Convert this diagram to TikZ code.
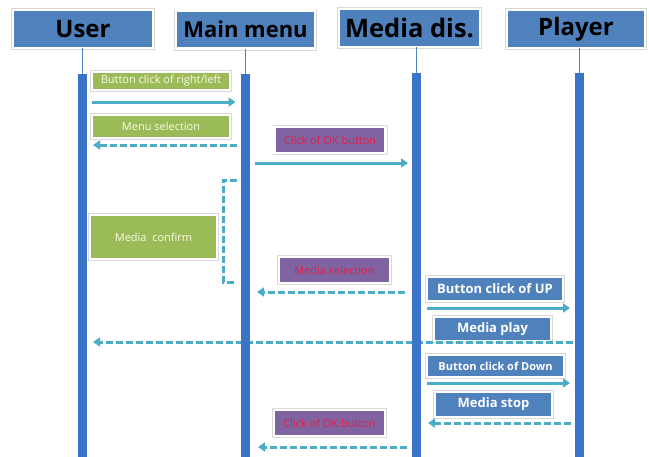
\documentclass[tikz,border=0pt]{standalone}
\usepackage{fontspec}
\setmainfont{Open Sans}
\usetikzlibrary{arrows.meta}

\definecolor{headblue}{RGB}{79,129,189}
\definecolor{barblue}{RGB}{58,116,200}
\definecolor{msggreen}{RGB}{155,187,89}
\definecolor{msgpurple}{RGB}{128,100,162}
\definecolor{msgteal}{RGB}{75,172,198}
\definecolor{okred}{RGB}{225,30,75}
\definecolor{cream}{RGB}{250,250,228}

\tikzset{
	framed/.style={preaction={draw=black!15, line width=4pt}, draw=white, line width=2.6pt, inner sep=0pt, outer sep=0pt},
	head/.style={framed, fill=headblue, minimum height=38pt, font=\fontsize{24}{28}\selectfont\bfseries},
	lifebar/.style={fill=barblue, minimum width=9pt, minimum height=392pt, inner sep=0pt, anchor=north},
	stem/.style={draw=headblue, line width=1pt},
	greenmsg/.style={framed, fill=msggreen, text=cream, font=\fontsize{11}{13}\selectfont},
	purplemsg/.style={framed, fill=msgpurple, text=okred, minimum width=111pt, minimum height=26pt, font=\fontsize{11}{13}\selectfont},
	bluemsg/.style={framed, fill=headblue, text=white, font=\fontsize{13}{15}\selectfont\bfseries},
	call/.style={draw=msgteal, line width=3pt, -{Triangle[length=7pt,width=9pt]}},
	retn/.style={draw=msgteal, line width=3pt, dash pattern=on 7pt off 3pt},
	reply/.style={retn, -{Triangle[length=7pt,width=9pt]}}
}

\begin{document}
\begin{tikzpicture}[x=1pt,y=-1pt]
	\useasboundingbox (0,0) rectangle (649,456);

	% heads
	\node[head, minimum width=140pt] (user) at (83,29) {User} ; %
	\node[head, minimum width=139pt, font=\fontsize{22}{26}\selectfont\bfseries] (menu) at (245.5,29.5) {Main menu} ; %
	\node[head, minimum width=141pt, font=\fontsize{25.5}{30}\selectfont\bfseries] (media) at (409.5,28) {Media dis.} ; %
	\node[head, minimum width=138pt] (player) at (576,29) {Player} ; %

	% messages
	\node[greenmsg, minimum width=138pt, minimum height=18pt] (btnlr) at (161,81) {Button click of right/left} ; %
	\node[greenmsg, minimum width=138pt, minimum height=23pt] (menusel) at (161,126.5) {Menu selection} ; %
	\node[purplemsg] (okfirst) at (330,140) {Click of OK button} ; %
	\node[greenmsg, minimum width=127pt, minimum height=44pt] (confirm) at (153.5,237) {Media\ \ confirm} ; %
	\node[purplemsg] (mediasel) at (334.5,270) {Media selection} ; %
	\node[bluemsg, minimum width=136pt, minimum height=24pt] (btnup) at (495,289) {Button click of UP} ; %
	\node[bluemsg, minimum width=117pt, minimum height=24pt] (play) at (492.5,329) {Media play} ; %
	\node[bluemsg, minimum width=137pt, minimum height=22pt, font=\fontsize{11}{13}\selectfont\bfseries] (btndown) at (495.5,366) {Button click of Down} ; %
	\node[bluemsg, minimum width=117pt, minimum height=25pt] (stop) at (493.5,404.5) {Media stop} ; %
	\node[purplemsg] (oksecond) at (329.5,423) {Click of OK button} ; %

	% arrows
	\coordinate (userline) at (82.5,0) ; %
	\coordinate (menuline) at (245.5,0) ; %
	\coordinate (medialine) at (416.5,0) ; %
	\coordinate (playerline) at (579.5,0) ; %

	\draw[call, shorten <=9.5pt, shorten >=10pt] (userline |- 0,102) -- (menuline |- 0,102) ; %
	\draw[reply, shorten <=8.5pt, shorten >=10.5pt] (menuline |- 0,145) -- (userline |- 0,145) ; %
	\draw[call, shorten <=9.5pt, shorten >=8.5pt] (menuline |- 0,163) -- (medialine |- 0,163) ; %
	\draw[retn] (menuline |- 0,180) ++(-8.5,0) -- ++(-14,0) -- ++(0,102) -- ++(14,0) ; %
	\draw[reply, shorten <=11.5pt, shorten >=11.5pt] (medialine |- 0,292) -- (menuline |- 0,292) ; %
	\draw[call, shorten <=10.5pt, shorten >=9.5pt] (medialine |- 0,308) -- (playerline |- 0,308) ; %
	\draw[reply, shorten <=6.5pt, shorten >=10.5pt] (playerline |- 0,342) -- (userline |- 0,342) ; %
	\draw[call, shorten <=10.5pt, shorten >=9.5pt] (medialine |- 0,383) -- (playerline |- 0,383) ; %
	\draw[reply, shorten <=8.5pt, shorten >=11.5pt] (playerline |- 0,423) -- (medialine |- 0,423) ; %
	\draw[reply, shorten <=9.5pt, shorten >=12.5pt] (medialine |- 0,447) -- (menuline |- 0,447) ; %

	% lifelines
	\node[lifebar] (userbar) at (82.5,74) {} ; %
	\node[lifebar] (menubar) at (245.5,74) {} ; %
	\node[lifebar] (mediabar) at (416.5,73) {} ; %
	\node[lifebar] (playerbar) at (579.5,73) {} ; %
	\draw[stem] (userbar.north) -- (userbar.north |- user.south) ; %
	\draw[stem] (menubar.north) -- (menubar.north |- menu.south) ; %
	\draw[stem] (mediabar.north) -- (mediabar.north |- media.south) ; %
	\draw[stem] (playerbar.north) -- (playerbar.north |- player.south) ; %
\end{tikzpicture}
\end{document}
